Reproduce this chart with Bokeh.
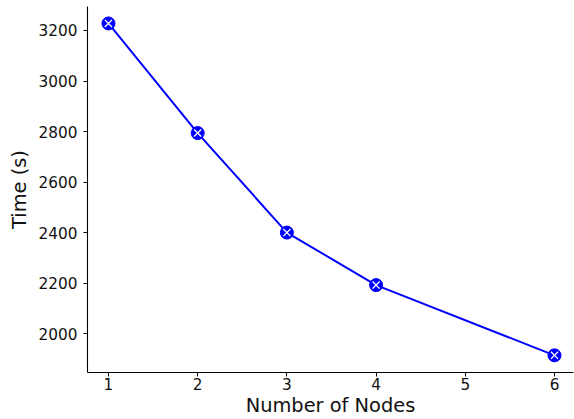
from bokeh.plotting import figure
from bokeh.models import Range1d, FixedTicker
from bokeh.embed import file_html
from bokeh.resources import INLINE

nodes = [1, 2, 3, 4, 6]
times = [3228, 2794, 2400, 2192, 1914]
x_ticks = [1, 2, 3, 4, 5, 6]
y_ticks = [2000, 2200, 2400, 2600, 2800, 3000, 3200]

p = figure(width=574, height=419, output_backend="svg", toolbar_location=None,
           x_range=Range1d(0.765, 6.213), y_range=Range1d(1846, 3295),
           min_border_left=87, min_border_right=1, min_border_top=6, min_border_bottom=47)

p.line(nodes, times, line_color="blue", line_width=2)
p.scatter(nodes, times, marker="circle", size=13, fill_color="blue", line_color="blue")
p.scatter(nodes, times, marker="x", size=10, line_color="white", line_width=1.3)

p.xgrid.visible = False
p.ygrid.visible = False
p.outline_line_color = None

for ax in (p.xaxis[0], p.yaxis[0]):
    ax.axis_line_color = "black"
    ax.axis_line_width = 1.1
    ax.major_tick_line_color = "black"
    ax.major_tick_out = 4
    ax.major_tick_in = 0
    ax.minor_tick_line_color = None
    ax.major_label_text_font = "DejaVu Sans"
    ax.major_label_text_font_size = "15.3px"
    ax.major_label_text_color = "#111111"
    ax.axis_label_text_font = "DejaVu Sans"
    ax.axis_label_text_font_size = "19.4px"
    ax.axis_label_text_font_style = "normal"
    ax.axis_label_text_color = "#111111"

p.xaxis.ticker = FixedTicker(ticks=x_ticks)
p.yaxis.ticker = FixedTicker(ticks=y_ticks)
p.xaxis.axis_label = "Number of Nodes"
p.yaxis.axis_label = "Time (s)"
p.xaxis.major_label_standoff = 1
p.xaxis.axis_label_standoff = 1
p.yaxis.major_label_standoff = 6
p.yaxis.axis_label_standoff = 5

open("out.html", "w").write(file_html(p, INLINE))
